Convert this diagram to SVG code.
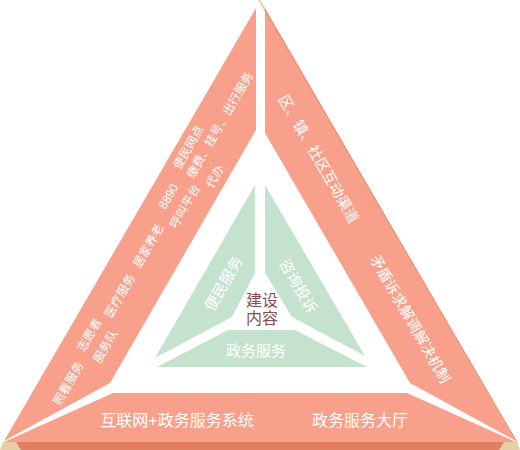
<svg xmlns="http://www.w3.org/2000/svg" width="520" height="450" viewBox="0 0 520 450">
<style>
.salmon{fill:#f8a08b}
.green{fill:#c5e2cf}
.t{font-family:"Liberation Sans","Noto Sans CJK SC",sans-serif;fill:#ffffff;text-anchor:middle;dominant-baseline:central}
.s12{font-size:12px}
.s14{font-size:14.5px}
.s15{font-size:15px}
.s16{font-size:16px}
.center{font-family:"Liberation Sans","Noto Sans CJK SC",sans-serif;fill:#8a4b4b;font-size:16px;text-anchor:middle;dominant-baseline:central}
</style>
<rect width="520" height="450" fill="#ffffff"/>
<g id="base">
  <polygon points="3,442 517,442 520,450 0,450" fill="#e4cfa6"/>
  <polygon points="16,442 504,442 499,450 21,450" fill="#e07f60"/>
</g>
<g id="left-panel">
  <polygon class="salmon" points="256,8 256,130 110,383 4,441"/>
  <g class="t s12">
    <text transform="translate(188.5,147.5) rotate(-60)">便民网点</text>
    <text transform="translate(220,125) rotate(-60)">缴费、挂号、出行服务</text>
    <text transform="translate(215,176.5) rotate(-60)">代办</text>
    <text transform="translate(168.5,196.5) rotate(-60)">8890</text>
    <text transform="translate(185,206.5) rotate(-60)">呼叫平台</text>
    <text transform="translate(148.5,246) rotate(-60)">居家养老</text>
    <text transform="translate(120,296) rotate(-60)">医疗服务</text>
    <text transform="translate(89.5,335) rotate(-60)">志愿者</text>
    <text transform="translate(105.5,346.5) rotate(-60)">服务队</text>
    <text transform="translate(68.5,383.5) rotate(-60)">照看服务</text>
  </g>
</g>
<g id="right-panel">
  <polygon class="salmon" points="265,8 265,133 410,383 516,441"/>
  <line x1="259" y1="0" x2="517" y2="442" stroke="#e28d6c" stroke-width="1"/>
  <line x1="259" y1="0" x2="265" y2="9" stroke="#e4cfa6" stroke-width="1.5"/>
  <g class="t s14">
    <text transform="translate(318.5,159) rotate(60)">区、镇、社区互动渠道</text>
    <text transform="translate(410,319) rotate(60)">矛盾诉求解调解决机制</text>
  </g>
</g>
<g id="bottom-panel">
  <polygon class="salmon" points="113,393 407,393 516,442 4,442"/>
  <text class="t s16" x="177" y="420">互联网+政务服务系统</text>
  <text class="t s16" x="360" y="420">政务服务大厅</text>
</g>
<g id="inner-left">
  <polygon class="green" points="255,185 255,273 232,317 155,358"/>
  <text class="t s15" transform="translate(223.5,283.5) rotate(-60)">便民服务</text>
</g>
<g id="inner-right">
  <polygon class="green" points="265,185 265,273 292,317 365,356"/>
  <text class="t s15" transform="translate(298.5,286) rotate(60)">咨询投诉</text>
</g>
<g id="inner-bottom">
  <polygon class="green" points="228,330 295,330 367,367 157,367"/>
  <text class="t s15" x="256" y="350">政务服务</text>
</g>
<g id="center">
  <text class="center" x="262" y="300">建设</text>
  <text class="center" x="262" y="318">内容</text>
</g>
<g id="connectors"/>
</svg>
